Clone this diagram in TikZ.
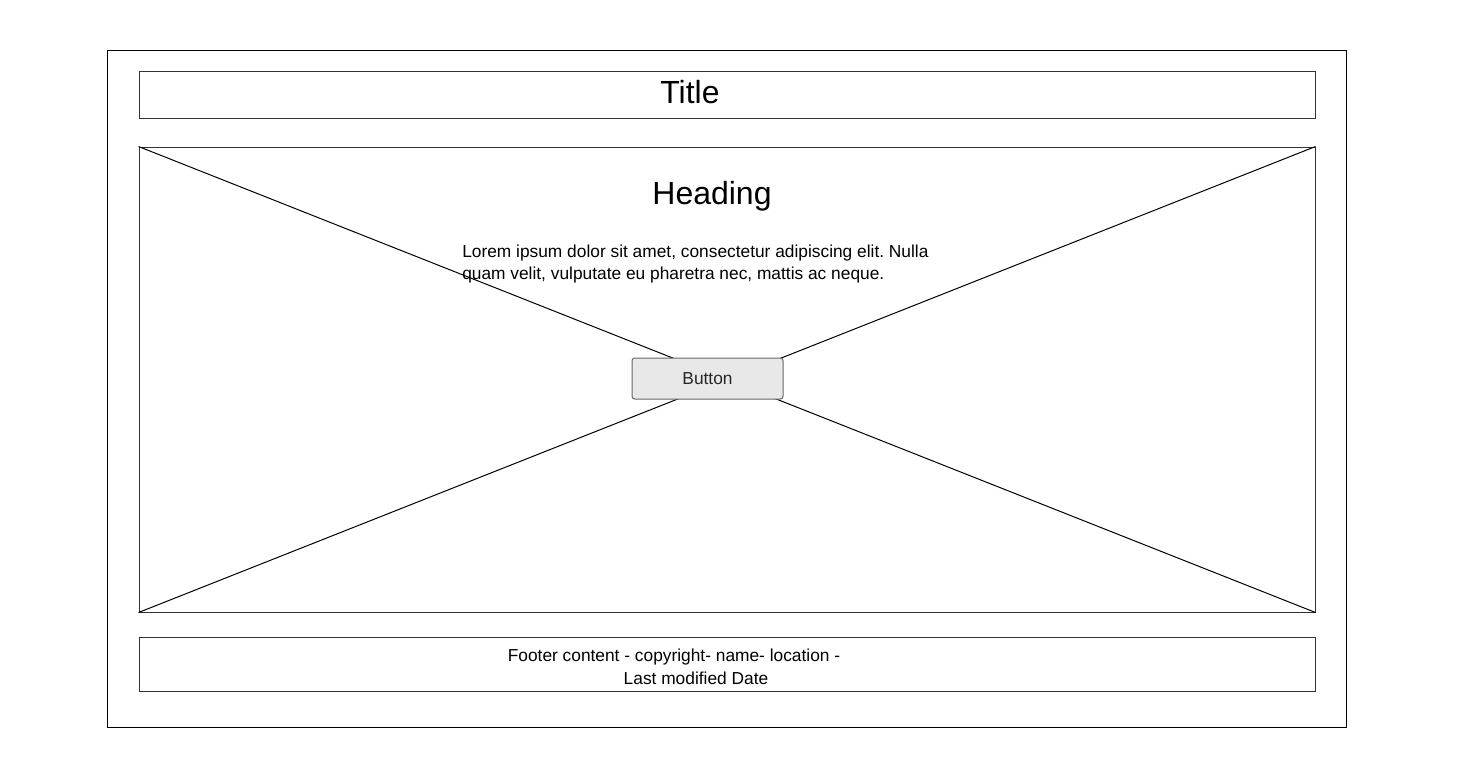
\documentclass[tikz,border=0pt]{standalone}
\usepackage{fontspec}
\setmainfont{Liberation Sans}
\frenchspacing
\newcommand{\pxu}{0.75pt}
\tikzset{
  frame/.style={draw=black!80, line width=\pxu, inner sep=0pt},
  btnbox/.style={draw=black!60, fill=black!9, rounded corners=2pt, line width=\pxu,
    minimum width=151*\pxu, minimum height=41*\pxu, inner sep=0pt, text=black!85,
    font=\fontsize{13}{15}\selectfont},
}
\begin{document}
\begin{tikzpicture}[x=\pxu, y=-\pxu]
    \useasboundingbox (0,0) rectangle (1460,764);
    \node[frame, draw=black, minimum width=1239*\pxu, minimum height=677*\pxu] (outer) at (726.5,388.5) {};
    \node[frame, minimum width=1176*\pxu, minimum height=47*\pxu] (titlebar) at (727,94.5) {};
    \node[frame, minimum width=1176*\pxu, minimum height=465*\pxu] (hero) at (727,379.5) {};
    \node[frame, minimum width=1176*\pxu, minimum height=54*\pxu] (footer) at (727,664) {};

    % placeholder cross
    \draw[line width=\pxu] (hero.north west)--(hero.south east);
    \draw[line width=\pxu] (hero.south west)--(hero.north east);

    \node[font=\fontsize{24}{28}\selectfont] (title) at (690,92.5) {Title};
    \node[font=\fontsize{24}{28}\selectfont] (heading) at (712,196) {Heading};
    \node[anchor=north west, inner sep=0pt, align=left, font=\fontsize{13}{16.5}\selectfont] (lorem) at (462,245)
        {Lorem ipsum dolor sit amet, consectetur adipiscing elit. Nulla\\quam velit, vulputate eu pharetra nec, mattis ac neque.};
    \node[btnbox] (btn) at (707.5,378.5) {Button};
    \node[align=center, inner sep=0pt, font=\fontsize{13}{17}\selectfont] (foottext) at (696,667)
        {Footer content - copyright- name- location -\hspace*{33pt}\\Last modified Date};
\end{tikzpicture}
\end{document}
